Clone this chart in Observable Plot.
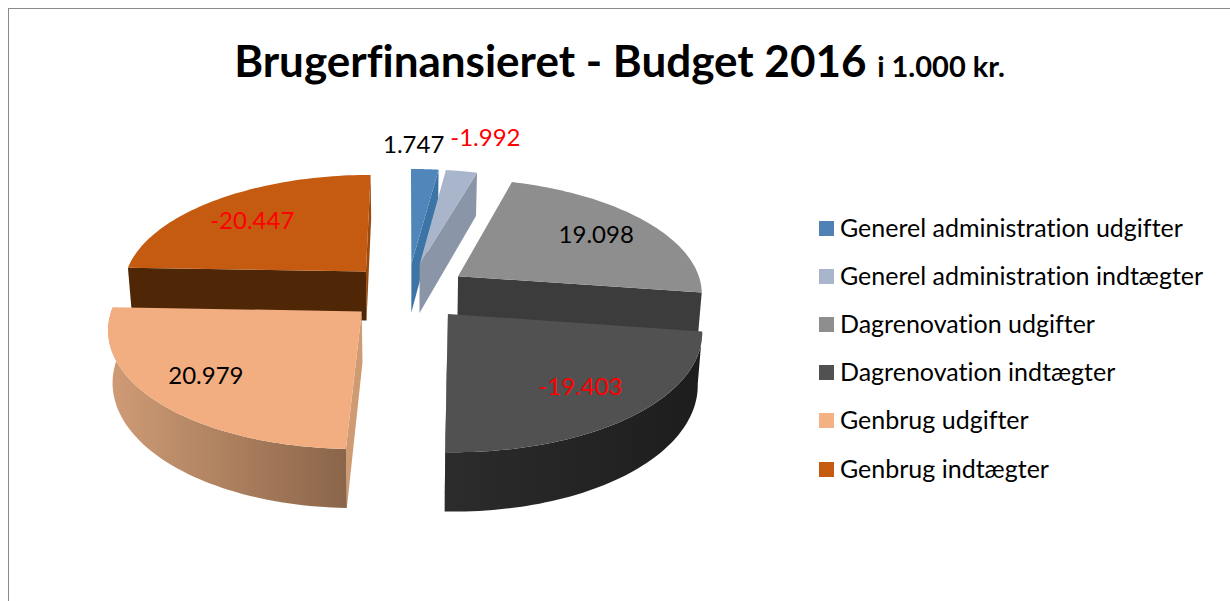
<!DOCTYPE html>
<html lang="da">
<head>
<meta charset="utf-8">
<script src="https://cdn.jsdelivr.net/npm/d3@7"></script>
<script src="https://cdn.jsdelivr.net/npm/@observablehq/plot@0.6"></script>
<style>
  html, body { margin: 0; padding: 0; background: #fff; overflow: hidden; }
  #page { position: relative; width: 1230px; height: 601px; overflow: hidden; font-family: Lato, "Open Sans", sans-serif; color: #000; font-variant-ligatures: none; }
  #frame { position: absolute; left: 8px; top: 8px; width: 1300px; height: 700px; border: 1px solid #8a8a8a; box-sizing: border-box; }
  #title { position: absolute; left: 0; top: 32px; width: 1239px; text-align: center; font-weight: 700; font-size: 44px; line-height: 56px; white-space: nowrap; }
  #title small { font-size: 29px; font-weight: 700; margin-left: 0; }
  #chart { position: absolute; left: 0; top: 0; }
  .swatch-row { position: absolute; left: 819px; height: 30px; display: flex; align-items: center; white-space: nowrap; font-size: 25px; }
  .swatch-row i { display: block; width: 15px; height: 15px; margin-right: 6px; }
  .swatch-row span { position: relative; top: -1.5px; }
  svg text { font-variant-ligatures: none; }
</style>
</head>
<body>
<div id="page">
  <div id="frame"></div>
  <div id="chart"></div>
  <div id="title">Brugerfinansieret - Budget 2016 <small>i 1.000 kr.</small></div>
  <div id="legend"></div>
</div>
<script>
// ---- data ----
const categories = [
  "Generel administration udgifter",
  "Generel administration indtægter",
  "Dagrenovation udgifter",
  "Dagrenovation indtægter",
  "Genbrug udgifter",
  "Genbrug indtægter"
];
const values = [1.747, -1.992, 19.098, -19.403, 20.979, -20.447];
const valueLabels = ["1.747", "-1.992", "19.098", "-19.403", "20.979", "-20.447"];

// ---- styles ----
const topColors = ["#4f87bb", "#a9b5cb", "#8e8e8e", "#515151", "#f2ae80", "#c55a11"];
const cutColors = ["#3c74a6", "#8a95a8", "#3c3c3c", "#262626", "#cf9b72", "#4f2706"];
const swatchColors = ["#4f81b4", "#a9b5cb", "#8e8e8e", "#515151", "#f4b183", "#c55a11"];
const labelColors = ["#000", "#f00", "#000", "#f00", "#000", "#f00"];
const labelRadius = [1.285, 1.42, 0.73, 0.74, 0.76, 0.71];
const labelTurn = [-3.15, 1.8, 0, 0, 1.5, -2.5];

// ---- 3D pie model: unit radius disc, seen in perspective ----
const explode = 0.25, persp = 0.13, depth = 0.44, taper = 0.985;
const total = d3.sum(values, Math.abs);
const rad = Math.PI / 180;
let running = 0;
const slices = values.map((v, i) => {
  const a0 = running / total * 360;
  running += Math.abs(v);
  const a1 = running / total * 360;
  const mid = (a0 + a1) / 2 * rad;
  return {i, a0, a1, mid, ou: explode * Math.sin(mid), ov: explode * Math.cos(mid)};
});
function project(u, v, drop) {
  const den = 1 + persp * v;
  return {x: u / den * (drop ? taper : 1), y: (v - (drop ? depth : 0)) / den};
}
function at(s, angle, r, drop) {
  return project(s.ou + r * Math.sin(angle * rad), s.ov + r * Math.cos(angle * rad), drop);
}
function arc(s, drop, from = s.a0, to = s.a1) {
  return d3.range(0, 61).map(k => at(s, from + (to - from) * k / 60, 1, drop));
}
const topFace = s => [at(s, 0, 0, false), ...arc(s, false)];
const cut = (s, a) => [at(s, a, 0, false), at(s, a, 1, false), at(s, a, 1, true), at(s, a, 0, true)];
const rim = (s) => [...arc(s, false), ...arc(s, true).reverse()];
const labelAt = s => at(s, s.mid / rad + labelTurn[s.i], labelRadius[s.i], false);

const face = (pts, fill) => Plot.line(pts, {x: "x", y: "y", fill, stroke: "none"});
const [sBlue, sLight, sGrey, sDark, sPeach, sOrange] = slices;

const defs = () => {
  const svg = d3.create("svg:defs");
  const grad = (id, a, b) => {
    const g = svg.append("linearGradient").attr("id", id);
    g.append("stop").attr("offset", 0).attr("stop-color", a);
    g.append("stop").attr("offset", 1).attr("stop-color", b);
  };
  grad("peachSide", "#d09c76", "#8a6549");
  grad("darkSide", "#2c2c2c", "#1d1d1d");
  return svg.node();
};

const marks = [
  defs,
  // back slices first, front slices last
  face(cut(sBlue, sBlue.a1), cutColors[0]), face(topFace(sBlue), topColors[0]),
  face(cut(sLight, sLight.a1), cutColors[1]), face(topFace(sLight), topColors[1]),
  face(cut(sOrange, sOrange.a1), "#9c4a0f"), face(cut(sOrange, sOrange.a0), cutColors[5]), face(topFace(sOrange), topColors[5]),
  face(cut(sGrey, sGrey.a1), cutColors[2]), face(topFace(sGrey), topColors[2]),
  face(cut(sPeach, sPeach.a0), cutColors[4]), face(rim(sPeach), "url(#peachSide)"), face(topFace(sPeach), topColors[4]),
  face(cut(sDark, sDark.a1), cutColors[3]), face(rim(sDark), "url(#darkSide)"), face(topFace(sDark), topColors[3]),
  // data labels
  Plot.text(slices, {
    x: s => labelAt(s).x,
    y: s => labelAt(s).y,
    text: s => valueLabels[s.i],
    fill: s => labelColors[s.i],
    fontSize: 24,
    fontFamily: "Lato, 'Open Sans', sans-serif",
    textAnchor: "middle",
    lineAnchor: "middle"
  })
];

const plot = Plot.plot({
  width: 1230, height: 601,
  margin: 0,
  style: {background: "transparent", overflow: "visible"},
  x: {domain: [-407 / 245, 823 / 245], range: [0, 1230], axis: null},
  y: {domain: [291 / 114, (291 - 601) / 114], range: [0, 601], axis: null},
  color: {type: "identity"},
  marks
});
document.getElementById("chart").appendChild(plot);

// ---- legend ----
const legend = d3.select("#legend");
categories.forEach((c, i) => {
  const row = legend.append("div").attr("class", "swatch-row").style("top", (213 + i * 48.2) + "px");
  row.append("i").style("background", swatchColors[i]);
  row.append("span").text(c);
});
</script>
</body>
</html>
